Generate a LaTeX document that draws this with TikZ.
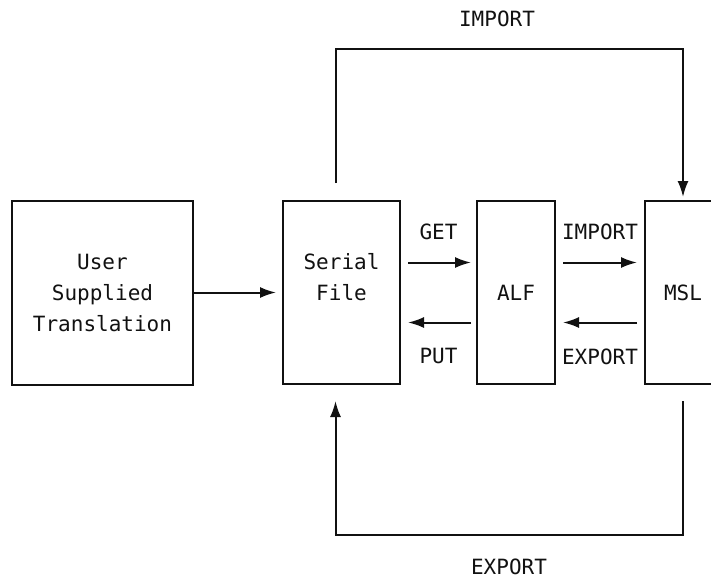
\documentclass[tikz,border=0pt]{standalone}
\usepackage{fontspec}
\setmonofont{DejaVu Sans Mono}
\usetikzlibrary{arrows.meta,positioning}
\definecolor{Ink}{HTML}{111111}

\begin{document}
\begin{tikzpicture}[x=1pt,y=-1pt,
  box/.style={draw=Ink,line width=2pt,align=center,inner sep=0pt,text=Ink,font=\ttfamily\fontsize{21}{31}\selectfont},
  lbl/.style={inner sep=0pt,text=Ink,font=\ttfamily\fontsize{21}{31}\selectfont},
  flow/.style={draw=Ink,line width=2pt,-{Latex[length=16pt,width=11pt]}}
]
\clip (0,0) rectangle (711,578);
\node[box,minimum width=181pt,minimum height=184pt] (user) at (102.5,292.5) {User\\Supplied\\Translation};
\node[box,minimum width=117pt,minimum height=183pt] (serial) at (341.5,292.5) {Serial\\File\\~};
\node[box,minimum width=78pt,minimum height=183pt] (alf) at (516,292.5) {ALF};
\node[box,minimum width=76pt,minimum height=183pt] (msl) at (683,292.5) {MSL};
\coordinate (top) at (509,49);
\coordinate (bottom) at (509,535);
\draw[flow,shorten >=6pt] (user) -- (serial);
\draw[flow,shorten <=7pt,shorten >=5pt] ([yshift=30pt]serial.east) -- node[lbl,above=22pt] (get) {GET} ([yshift=30pt]alf.west);
\draw[flow,shorten <=5pt,shorten >=7pt] ([yshift=-30pt]alf.west) -- node[lbl,below=25pt] (put) {PUT} ([yshift=-30pt]serial.east);
\draw[flow,shorten <=7pt,shorten >=7pt] ([yshift=30pt]alf.east) -- node[lbl,above=22pt] (imp) {IMPORT} ([yshift=30pt]msl.west);
\draw[flow,shorten <=7pt,shorten >=7pt] ([yshift=-30pt]msl.west) -- node[lbl,below=25pt] (exp) {EXPORT} ([yshift=-30pt]alf.east);
\draw[flow,shorten <=17pt,shorten >=3pt] ([xshift=-6pt]serial.north) |- (top) -| (msl.north);
\draw[flow,shorten <=16pt,shorten >=16pt] (msl.south) |- (bottom) -| ([xshift=-6pt]serial.south);
\node[lbl] (importtop) at (497,18.5) {IMPORT};
\node[lbl] (exportbot) at (509,566.5) {EXPORT};
\end{tikzpicture}
\end{document}
